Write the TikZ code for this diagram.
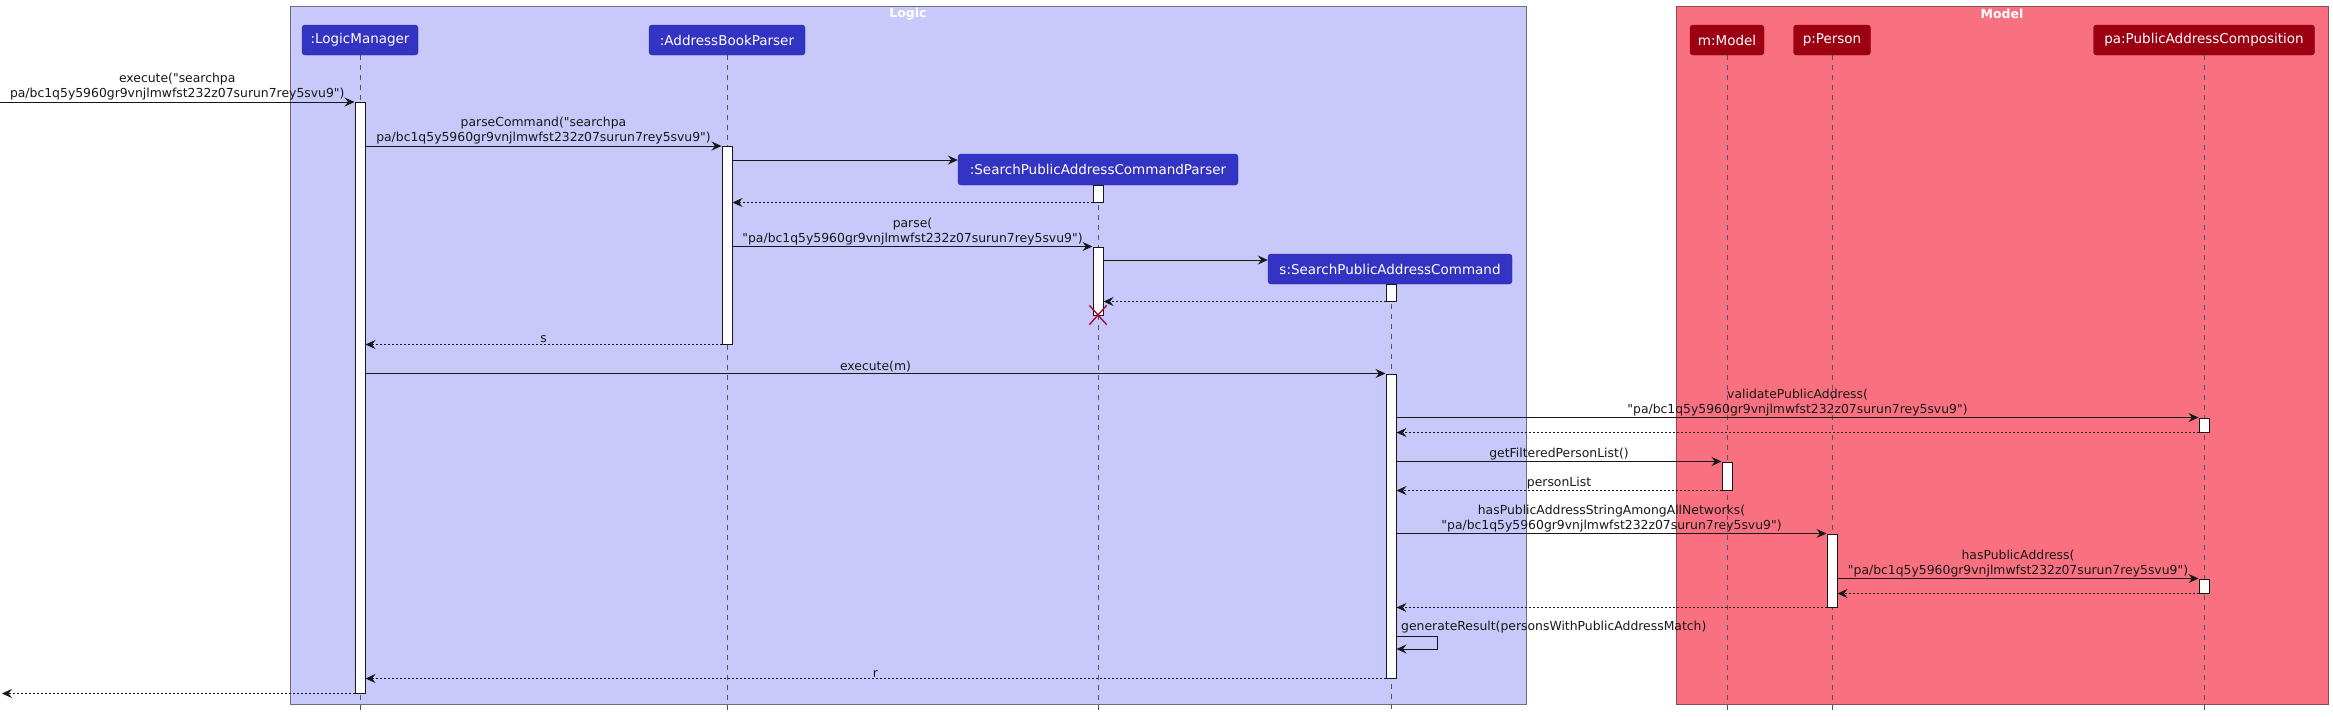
\documentclass[tikz,border=0pt]{standalone}
\usepackage{fontspec}
\setmainfont{DejaVu Sans}[Ligatures=TeXOff]
\usetikzlibrary{arrows.meta, shapes.misc}
\definecolor{logicbg}{HTML}{C8C8FA}
\definecolor{logicpart}{HTML}{3333C4}
\definecolor{modelbg}{HTML}{F97181}
\definecolor{modelpart}{HTML}{9D0012}
\definecolor{framegray}{HTML}{6E6E80}
\definecolor{lifegray}{HTML}{555555}
\definecolor{msgcol}{HTML}{181818}
\definecolor{killred}{HTML}{A80036}
\tikzstyle{pkgbox} = [rectangle, draw=framegray, line width=1pt, anchor=north west, inner sep=0pt]
\tikzstyle{ptitle} = [text=white, inner sep=0pt, font=\fontsize{12.5}{15}\selectfont\bfseries]
\tikzstyle{lpart} = [rectangle, rounded corners=3pt, fill=logicpart, draw=logicpart!80!black, text=white, minimum height=30pt, inner sep=0pt, font=\fontsize{13.5}{16}\selectfont]
\tikzstyle{mpart} = [lpart, fill=modelpart, draw=modelpart!80!black]
\tikzstyle{act} = [rectangle, fill=white, draw=msgcol, minimum width=10pt, inner sep=0pt, line width=1pt]
\tikzstyle{lifeline} = [draw=lifegray, line width=0.8pt, dash pattern=on 5pt off 5pt]
\tikzstyle{call} = [->, >={Stealth[length=10pt,width=9pt,inset=3.5pt]}, draw=msgcol, line width=1pt]
\tikzstyle{reply} = [call, dash pattern=on 2pt off 2pt]
\tikzstyle{lbl} = [anchor=south, inner sep=1pt, align=center, text=msgcol, font=\fontsize{12.4}{15}\selectfont]
\begin{document}
\begin{tikzpicture}[x=1pt, y=-1pt]
    \useasboundingbox (0,0) rectangle (2333,716);
    \node at (290,6) [pkgbox, fill=logicbg, minimum width=1236pt, minimum height=698pt] (logicbox) {};
    \node at (1676,6) [pkgbox, fill=modelbg, draw=modelpart!40!gray, minimum width=652pt, minimum height=698pt] (modelbox) {};
    \node at (908,14) [ptitle] (logictitle) {Logic};
    \node at (2002,14) [ptitle] (modeltitle) {Model};

    \coordinate (bot) at (0,712);
    \coordinate (in) at (0,102);
    \coordinate (out) at (2,693);
    \coordinate (yparse) at (0,146);
    \coordinate (ynew1) at (0,160);
    \coordinate (ynew2) at (0,260);
    \coordinate (selfa) at (1437,636);
    \coordinate (selfb) at (1437,649);

    \node at (360,40) [lpart, minimum width=116pt] (lm) {:LogicManager};
    \node at (727,40) [lpart, minimum width=156pt] (abp) {:AddressBookParser};
    \node at (1098,169.5) [lpart, minimum width=280pt, minimum height=31pt] (spcp) {:SearchPublicAddressCommandParser};
    \node at (1390,269) [lpart, minimum width=244pt] (spc) {s:SearchPublicAddressCommand};
    \node at (1727,40) [mpart, minimum width=74pt] (model) {m:Model};
    \node at (1832,40) [mpart, minimum width=77pt] (person) {p:Person};
    \node at (2204,40) [mpart, minimum width=221pt] (pac) {pa:PublicAddressComposition};

    \draw[lifeline] (lm.south) -- (lm.south |- bot);
    \draw[lifeline] (abp.south) -- (abp.south |- bot);
    \draw[lifeline] (spcp.south) -- (spcp.south |- bot);
    \draw[lifeline] ([xshift=1pt]spc.south) -- ([xshift=1pt]spc.south |- bot);
    \draw[lifeline] (model.south) -- (model.south |- bot);
    \draw[lifeline] (person.south) -- (person.south |- bot);
    \draw[lifeline] (pac.south) -- (pac.south |- bot);

    \node at (360,397.5) [act, minimum height=591pt] (lmact) {};
    \node at (727,245) [act, minimum height=198pt] (abpact) {};
    \node at (1098,193.5) [act, minimum height=17pt] (spcpact1) {};
    \node at (1098,281) [act, minimum height=68pt] (spcpact2) {};
    \node at (1391,292.5) [act, minimum height=17pt] (spcact1) {};
    \node at (1391,526) [act, minimum height=304pt] (spcact2) {};
    \node at (2204,425) [act, minimum height=14pt] (pacact1) {};
    \node at (1727,476) [act, minimum height=28pt] (modact) {};
    \node at (1832,570.5) [act, minimum height=73pt] (peract) {};
    \node at (2204,586) [act, minimum height=14pt] (pacact2) {};
    \node at (1098,315) [cross out, draw=killred, line width=1.3pt, minimum width=16pt, minimum height=18pt, inner sep=0pt] (kill) {};

    \draw[call] (in) -- node[lbl] (lexec) {execute("searchpa\\pa/bc1q5y5960gr9vnjlmwfst232z07surun7rey5svu9")} (lmact.west |- in);
    \draw[call] (lmact.east |- yparse) -- node[lbl] (lparsecmd) {parseCommand("searchpa\\pa/bc1q5y5960gr9vnjlmwfst232z07surun7rey5svu9")} (abpact.west |- yparse);
    \draw[call] (abpact.east |- ynew1) -- (spcp.west |- ynew1);
    \draw[reply] (spcpact1.south west) -- (abpact.east |- spcpact1.south);
    \draw[call] (abpact.east |- spcpact2.north) -- node[lbl] (lparse) {parse(\\"pa/bc1q5y5960gr9vnjlmwfst232z07surun7rey5svu9")} (spcpact2.north west);
    \draw[call] (spcpact2.east |- ynew2) -- (spc.west |- ynew2);
    \draw[reply] (spcact1.south west) -- (spcpact2.east |- spcact1.south);
    \draw[reply] (abpact.south west) -- node[lbl] (ls) {s} (lmact.east |- abpact.south);
    \draw[call] (lmact.east |- spcact2.north) -- node[lbl] (lexecm) {execute(m)} (spcact2.north west);
    \draw[call] (spcact2.east |- pacact1.north) -- node[lbl] (lvalid) {validatePublicAddress(\\"pa/bc1q5y5960gr9vnjlmwfst232z07surun7rey5svu9")} (pacact1.north west);
    \draw[reply] (pacact1.south west) -- (spcact2.east |- pacact1.south);
    \draw[call] (spcact2.east |- modact.north) -- node[lbl] (lget) {getFilteredPersonList()} (modact.north west);
    \draw[reply] (modact.south west) -- node[lbl] (llist) {personList} (spcact2.east |- modact.south);
    \draw[call] (spcact2.east |- peract.north) -- node[lbl] (lhasall) {hasPublicAddressStringAmongAllNetworks(\\"pa/bc1q5y5960gr9vnjlmwfst232z07surun7rey5svu9")} (peract.north west);
    \draw[call] (peract.east |- pacact2.north) -- node[lbl] (lhas) {hasPublicAddress(\\"pa/bc1q5y5960gr9vnjlmwfst232z07surun7rey5svu9")} (pacact2.north west);
    \draw[reply] (pacact2.south west) -- (peract.east |- pacact2.south);
    \draw[reply] (peract.south west) -- (spcact2.east |- peract.south);
    \draw[call] (spcact2.east |- selfa) -- (selfa) -- (selfb) -- (spcact2.east |- selfb);
    \node at (1400,634) [lbl, anchor=south west] (lgen) {generateResult(personsWithPublicAddressMatch)};
    \draw[reply] (spcact2.south west) -- node[lbl] (lr) {r} (lmact.east |- spcact2.south);
    \draw[reply] (lmact.south west) -- (out |- lmact.south);
\end{tikzpicture}
\end{document}
